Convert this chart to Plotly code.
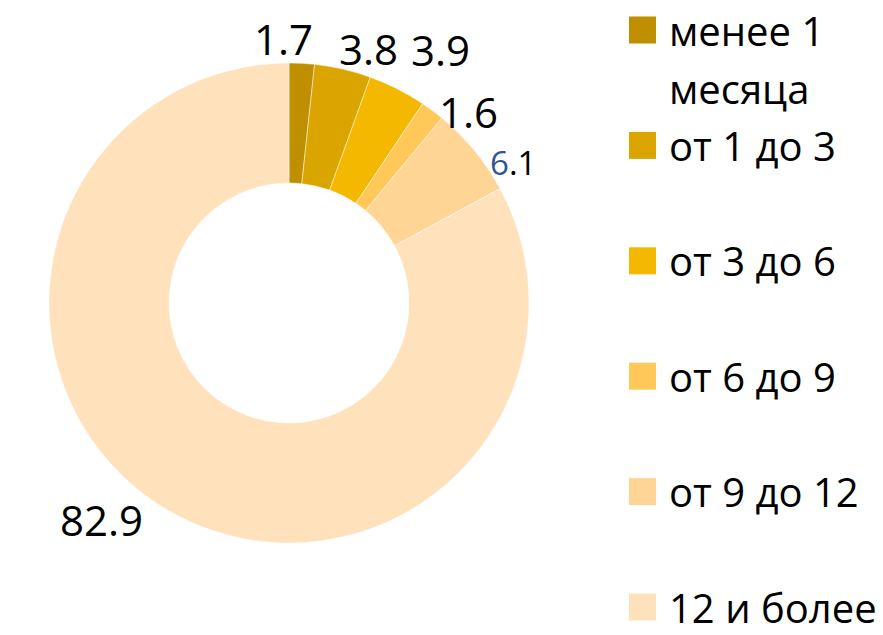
import math
import plotly.graph_objects as go

labels = ["менее 1<br>месяца", "от 1 до 3", "от 3 до 6", "от 6 до 9", "от 9 до 12", "12 и более"]
values = [1.7, 3.8, 3.9, 1.6, 6.1, 82.9]
colors = ["#BF8F00", "#DBA500", "#F4B800", "#FFC859", "#FFD596", "#FFE1BC"]

W, H = 883, 635
CX, CY, R = 289, 303, 240
FONT = "Open Sans, Noto Sans, sans-serif"

# per-label nudges (pixels) relative to radial anchor (best-fit style placement)
nudges = [(-20, 0), (20, -4), (32, 17), (21, -21), (19, -28), (-52, 11)]
label_sizes = [42, 42, 42, 42, 33, 42]

fig = go.Figure()
fig.add_trace(go.Pie(
    labels=[l.replace("<br>", " ") for l in labels],
    values=values,
    hole=0.5,
    sort=False,
    direction="clockwise",
    rotation=0,
    marker=dict(colors=colors, line=dict(color="rgba(255,255,255,0.6)", width=0.8)),
    textinfo="none",
    hoverinfo="label+value",
    showlegend=False,
    domain=dict(x=[(CX - R) / W, (CX + R) / W], y=[1 - (CY + R) / H, 1 - (CY - R) / H]),
))

annotations = []
shapes = []
total = sum(values)
cum = 0.0
LR = 265
for i, v in enumerate(values):
    mid = (cum + v / 2) / total * 2 * math.pi
    cum += v
    px = CX + LR * math.sin(mid)
    py = CY - LR * math.cos(mid)
    txt = f"{v:.1f}"
    if i == 4:
        a, b = txt.split(".")
        txt = f"<span style='color:#2F5597'>{a}</span>.{b}"
    annotations.append(dict(
        x=px / W, y=1 - py / H, xref="paper", yref="paper",
        text=txt, showarrow=False, xanchor="center", yanchor="middle",
        xshift=nudges[i][0], yshift=nudges[i][1],
        font=dict(family=FONT, size=label_sizes[i], color="#000000"),
    ))

# legend drawn manually to mimic the spacing of the original
LEG_X0, LEG_SQ, LEG_TX = 629, 27, 667
LEG_Y0, LEG_STEP, LINE_STEP = 30, 115.4, 58
for i, (lab, col) in enumerate(zip(labels, colors)):
    yc = LEG_Y0 + i * LEG_STEP
    shapes.append(dict(
        type="rect", xref="paper", yref="paper",
        x0=LEG_X0 / W, x1=(LEG_X0 + LEG_SQ) / W,
        y0=1 - (yc + LEG_SQ / 2) / H, y1=1 - (yc - LEG_SQ / 2) / H,
        fillcolor=col, line=dict(width=0),
    ))
    for j, part in enumerate(lab.split("<br>")):
        annotations.append(dict(
            x=LEG_TX / W, y=1 - (yc + j * LINE_STEP) / H, xref="paper", yref="paper",
            text=part, showarrow=False, xanchor="left", yanchor="middle",
            font=dict(family=FONT, size=40, color="#000000"),
        ))

fig.update_layout(
    width=W, height=H,
    margin=dict(l=0, r=0, t=0, b=0),
    paper_bgcolor="white", plot_bgcolor="white",
    annotations=annotations, shapes=shapes,
)
fig.write_html("out.html")
